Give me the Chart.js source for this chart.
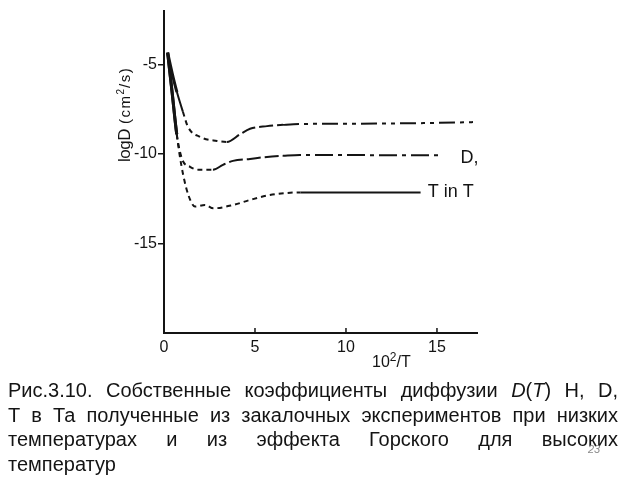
<!DOCTYPE html>
<html><head><meta charset="utf-8">
<script src="https://cdn.jsdelivr.net/npm/chart.js@4/dist/chart.umd.min.js"></script>
<style>html,body{margin:0;padding:0;background:#fff;}#wrap{position:relative;width:640px;height:480px;}</style>
</head><body><div id="wrap"><canvas id="c" width="640" height="480"></canvas></div>
<script>
// ---- data ----
const xTicks = [0, 5, 10, 15];
const yTicks = [-5, -10, -15];
const hX = [0.2, 0.45, 0.71, 1.04, 1.32, 1.98, 2.91, 3.46, 4.18, 4.73, 5.66, 6.54, 7.47, 10, 12.5, 15, 17.2];
const hY = [-4.35, -5.5, -6.55, -7.65, -8.5, -9.05, -9.28, -9.33, -8.9, -8.6, -8.45, -8.38, -8.33, -8.32, -8.3, -8.27, -8.22];
const dX = [0.2, 0.45, 0.7, 0.99, 1.43, 1.98, 2.69, 3.24, 3.79, 4.73, 5.66, 6.54, 7.47, 10, 12.5, 15.3];
const dY = [-4.35, -6.6, -8.9, -10.28, -10.72, -10.89, -10.89, -10.61, -10.39, -10.28, -10.17, -10.11, -10.06, -10.06, -10.08, -10.08];
const tX = [0.2, 0.45, 0.7, 0.85, 1.06, 1.34, 1.7, 2.25, 2.71, 3.81, 4.73, 5.82, 7.5, 10, 12, 14.1];
const tY = [-4.35, -6.6, -8.9, -10.0, -11.2, -12.3, -12.94, -12.85, -13.04, -12.85, -12.57, -12.3, -12.15, -12.15, -12.15, -12.15];
const curveLabels = ['', 'D,', 'T in T'];
const yTitleMain = 'logD';
const yTitleUnitParts = ['(cm', '2', '/s)'];
const captionLines = [
  'Рис.3.10. Собственные коэффициенты диффузии D(T) H, D,',
  'Т в Та полученные из закалочных экспериментов при низких',
  'температурах и из эффекта Горского для высоких',
  'температур'
];
const pageNumber = '23';

const FONT = '"Liberation Sans", Arial, sans-serif';
const INK = '#141414';

function pts(xs, ys) { return xs.map((x, i) => ({x: x, y: ys[i]})); }

function dashH(x) { if (x < 1.0) return []; if (x < 3.4) return [5, 4]; if (x < 6.0) return [14, 4]; return [16, 5, 4, 5, 4, 5]; }
function dashD(x) { if (x < 0.69) return []; if (x < 2.6) return [5, 4]; if (x < 6.0) return [14, 4]; return [18, 5, 4, 5]; }
function dashT(x) { if (x < 0.69) return []; if (x < 7.4) return [5, 4]; return []; }

function mkSet(xs, ys, dashFn) {
  return {
    data: pts(xs, ys), showLine: true, pointRadius: 0, borderColor: INK, borderWidth: 2,
    cubicInterpolationMode: 'monotone', fill: false,
    segment: {
      borderDash: c => dashFn(c.p0.parsed.x),
      borderWidth: c => (c.p0.parsed.x < 0.69 ? 3 : 2)
    }
  };
}

const extras = {
  id: 'extras',
  afterDraw(chart) {
    const ctx = chart.ctx, xs = chart.scales.x, ca = chart.chartArea;
    ctx.save();
    // inner ticks on x axis
    ctx.strokeStyle = INK; ctx.lineWidth = 1.5;
    xTicks.forEach(v => { if (v === 0) return; const px = xs.getPixelForValue(v); ctx.beginPath(); ctx.moveTo(px, ca.bottom); ctx.lineTo(px, ca.bottom - 5); ctx.stroke(); });
    ctx.fillStyle = INK;
    // curve labels
    ctx.font = '18px ' + FONT; ctx.textBaseline = 'alphabetic'; ctx.textAlign = 'left';
    ctx.fillText(curveLabels[1], xs.getPixelForValue(16.3), 163);
    ctx.fillText(curveLabels[2], xs.getPixelForValue(14.5), 197);
    // y title (rotated)
    ctx.save();
    ctx.translate(130, 162); ctx.rotate(-Math.PI / 2);
    ctx.font = '17px ' + FONT; ctx.letterSpacing = '-0.5px'; ctx.fillText(yTitleMain, 0, 0);
    let w = ctx.measureText(yTitleMain).width + 5;
    ctx.font = '15px ' + FONT; ctx.letterSpacing = '1.5px';
    ctx.fillText(yTitleUnitParts[0], w, 0); w += ctx.measureText(yTitleUnitParts[0]).width;
    ctx.font = '10px ' + FONT; ctx.letterSpacing = '0px';
    ctx.fillText(yTitleUnitParts[1], w, -6); w += ctx.measureText(yTitleUnitParts[1]).width + 1;
    ctx.font = '15px ' + FONT; ctx.letterSpacing = '1.5px';
    ctx.fillText(yTitleUnitParts[2], w, 0);
    ctx.letterSpacing = '0px';
    ctx.restore();
    // x title 10²/T
    ctx.font = '16px ' + FONT; ctx.fillText('10', 372, 367);
    let wx = 372 + ctx.measureText('10').width;
    ctx.font = '12px ' + FONT; ctx.fillText('2', wx, 361);
    wx += ctx.measureText('2').width;
    ctx.font = '16px ' + FONT; ctx.fillText('/T', wx, 367);
    // caption
    const base = [397, 422, 446, 471], left = 8, width = 610;
    const norm = '20px ' + FONT, ital = 'italic 20px ' + FONT;
    function wordRuns(wd) {
      if (wd === 'D(T)') return [['D', ital], ['(', norm], ['T', ital], [')', norm]];
      return [[wd, norm]];
    }
    function runsWidth(runs) { let s = 0; runs.forEach(r => { ctx.font = r[1]; s += ctx.measureText(r[0]).width; }); return s; }
    captionLines.forEach((line, i) => {
      const words = line.split(' ').map(wordRuns);
      const ws = words.map(runsWidth);
      ctx.font = norm;
      let gap = ctx.measureText(' ').width;
      if (i < captionLines.length - 1 && words.length > 1) gap = (width - ws.reduce((a, b) => a + b, 0)) / (words.length - 1);
      let x = left;
      words.forEach(runs => {
        runs.forEach(r => { ctx.font = r[1]; ctx.fillText(r[0], x, base[i]); x += ctx.measureText(r[0]).width; });
        x += gap;
      });
    });
    // page number
    ctx.fillStyle = '#8a8a8a'; ctx.font = 'italic 11px ' + FONT; ctx.fillText(pageNumber, 588, 453);
    ctx.restore();
  }
};

new Chart(document.getElementById('c'), {
  type: 'scatter',
  data: { datasets: [mkSet(hX, hY, dashH), mkSet(dX, dY, dashD), mkSet(tX, tY, dashT)] },
  options: {
    responsive: false, animation: false, events: [],
    layout: { padding: { top: 8, right: 163, bottom: 0, left: 0 } },
    plugins: { legend: { display: false }, tooltip: { enabled: false } },
    scales: {
      x: {
        type: 'linear', min: 0, max: 17.2,
        afterBuildTicks: s => { s.ticks = xTicks.map(v => ({value: v})); },
        afterFit: s => { s.height = 147; },
        grid: { display: false, drawTicks: false },
        border: { display: true, color: INK, width: 2 },
        ticks: { color: INK, font: { size: 16, family: FONT }, padding: 5, maxRotation: 0, autoSkip: false }
      },
      y: {
        type: 'linear', min: -20, max: -2,
        afterBuildTicks: s => { s.ticks = yTicks.map(v => ({value: v})); },
        afterFit: s => { s.width = 164; },
        grid: { display: true, drawOnChartArea: false, drawTicks: true, tickLength: 6, color: INK, lineWidth: 1.5 },
        border: { display: true, color: INK, width: 2 },
        ticks: { color: INK, font: { size: 16, family: FONT }, padding: 1, autoSkip: false }
      }
    }
  },
  plugins: [extras]
});
</script></body></html>
